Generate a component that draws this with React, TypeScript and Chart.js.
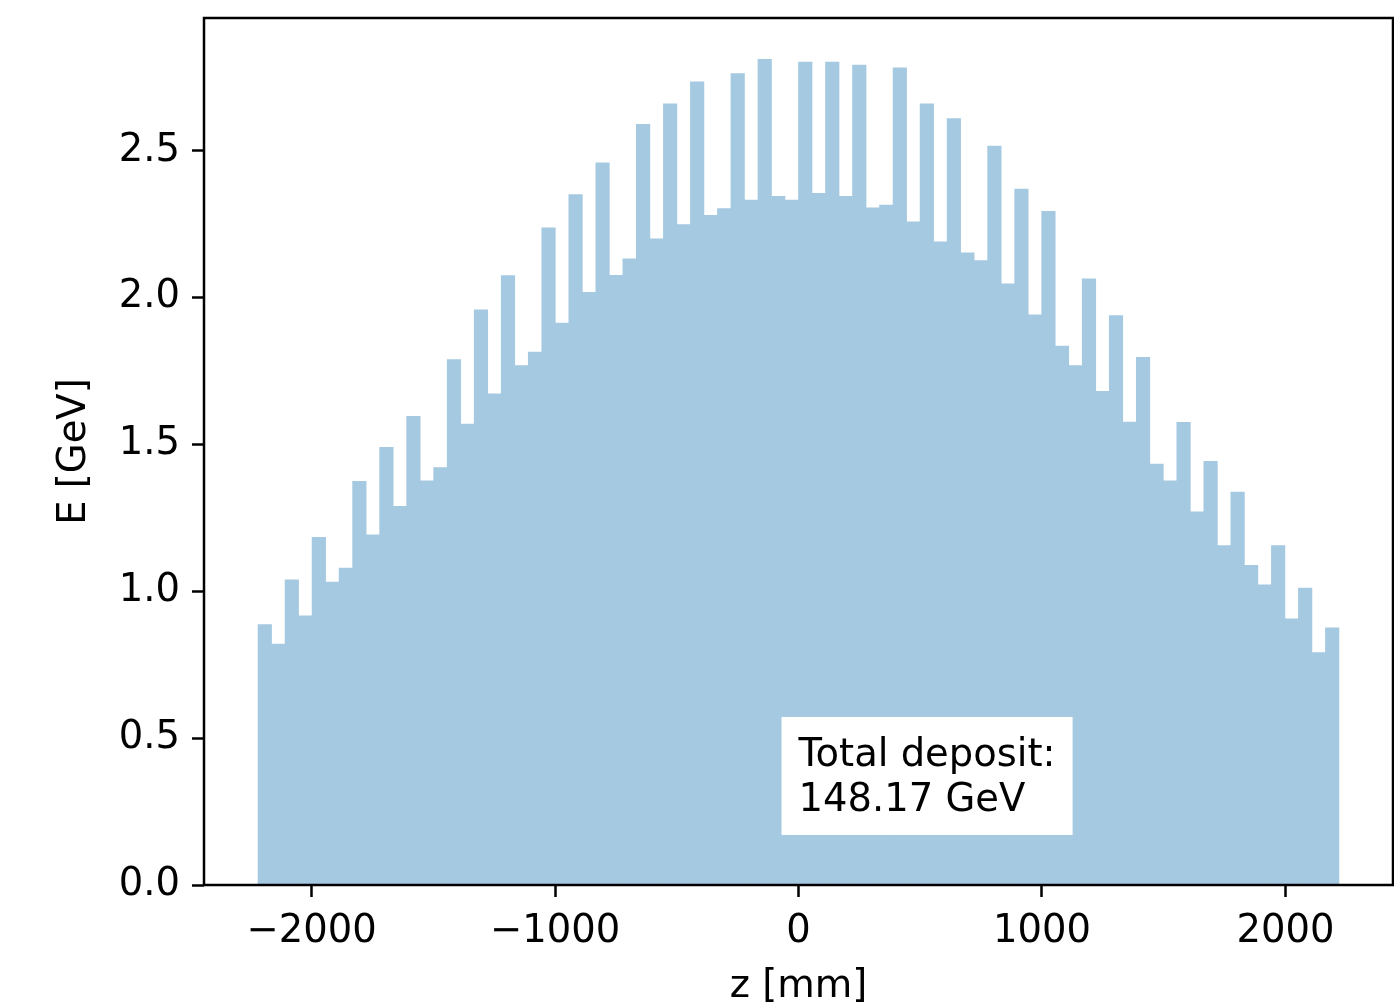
import React, { useEffect, useRef } from "react";
import { Chart, registerables } from "chart.js";

Chart.register(...registerables);

// Histogram binning along z (mm): 80 equal bins
const BIN_LOW = -2220;
const BIN_HIGH = 2220;

// Energy deposited per z bin (GeV)
const energyPerBin = [
  0.886, 0.82, 1.039, 0.916, 1.183, 1.031, 1.079, 1.374, 1.192, 1.49,
  1.289, 1.595, 1.376, 1.421, 1.788, 1.569, 1.958, 1.672, 2.074, 1.768,
  1.814, 2.237, 1.913, 2.35, 2.017, 2.458, 2.075, 2.131, 2.589, 2.199,
  2.659, 2.248, 2.734, 2.279, 2.302, 2.762, 2.331, 2.81, 2.344, 2.331,
  2.801, 2.354, 2.801, 2.344, 2.791, 2.305, 2.314, 2.781, 2.257, 2.659,
  2.189, 2.609, 2.152, 2.125, 2.515, 2.046, 2.369, 1.941, 2.293, 1.834,
  1.768, 2.063, 1.68, 1.938, 1.576, 1.796, 1.433, 1.376, 1.575, 1.27,
  1.442, 1.155, 1.337, 1.088, 1.022, 1.155, 0.906, 1.011, 0.791, 0.875,
];

const xTickValues = [-2000, -1000, 0, 1000, 2000];
const yTickValues = [0, 0.5, 1.0, 1.5, 2.0, 2.5];
const xLimits = [-2442, 2442];
const yLimits = [0, 2.951];

const xTitle = "z [mm]";
const yTitle = "E [GeV]";
const totalDeposit = 148.17;
const noteLines = ["Total deposit:", `${totalDeposit.toFixed(2)} GeV`];

const FONT_FAMILY = '"DejaVu Sans", "Liberation Sans", sans-serif';
const FONT_SIZE = 38.5;
const BAR_COLOR = "rgb(165, 201, 225)";

const binWidth = (BIN_HIGH - BIN_LOW) / energyPerBin.length;
const binCenters = energyPerBin.map((_, i) => BIN_LOW + binWidth * (i + 0.5));

const formatX = (v: number) => (v < 0 ? "\u2212" + Math.abs(v) : String(v));

// Draws the annotation box and the four-sided axes frame above the bars
const frameAndNote = {
  id: "frameAndNote",
  afterDatasetsDraw(chart: any) {
    const { ctx, chartArea: a } = chart;
    const w = a.right - a.left;
    const h = a.bottom - a.top;
    ctx.save();

    // text box (positions in axes fractions)
    const textX = a.left + 0.5 * w;
    ctx.font = `${FONT_SIZE}px ${FONT_FAMILY}`;
    const textW = Math.max(...noteLines.map((s) => ctx.measureText(s).width));
    const padX = 17;
    const boxTop = a.bottom - 0.1938 * h;
    const boxBottom = a.bottom - 0.0577 * h;
    ctx.fillStyle = "#ffffff";
    ctx.fillRect(textX - padX, boxTop, textW + 2 * padX, boxBottom - boxTop);
    ctx.fillStyle = "#000000";
    ctx.textAlign = "left";
    ctx.textBaseline = "alphabetic";
    const baselines = [a.bottom - 0.1372 * h, a.bottom - 0.0853 * h];
    noteLines.forEach((s, i) => ctx.fillText(s, textX, baselines[i]));

    // frame
    ctx.strokeStyle = "#000000";
    ctx.lineWidth = 2.5;
    ctx.strokeRect(a.left, a.top, w, h);
    ctx.restore();
  },
};

export default function App() {
  const canvasRef = useRef<HTMLCanvasElement>(null);

  useEffect(() => {
    const canvas = canvasRef.current;
    if (!canvas) return;
    const tickFont = { family: FONT_FAMILY, size: FONT_SIZE };
    const chart = new Chart(canvas, {
      type: "bar",
      data: {
        datasets: [
          {
            data: binCenters.map((x, i) => ({ x, y: energyPerBin[i] })),
            backgroundColor: BAR_COLOR,
            borderWidth: 0,
            barPercentage: 1,
            categoryPercentage: 1,
          },
        ],
      },
      options: {
        animation: false,
        responsive: false,
        devicePixelRatio: 1,
        layout: { padding: { top: 18, right: 1, left: 0, bottom: 0 } },
        plugins: {
          legend: { display: false },
          tooltip: { enabled: false },
        },
        scales: {
          x: {
            type: "linear",
            min: xLimits[0],
            max: xLimits[1],
            offset: false,
            grid: {
              offset: false,
              drawOnChartArea: false,
              drawTicks: true,
              tickLength: 12,
              tickWidth: 2.5,
              tickColor: "#000",
            },
            border: { display: false },
            ticks: {
              font: tickFont,
              color: "#000",
              padding: 12,
              maxRotation: 0,
              autoSkip: false,
              callback: (v: any) => formatX(Number(v)),
            },
            title: {
              display: true,
              text: xTitle,
              font: tickFont,
              color: "#000",
              padding: { top: 0, bottom: -5 },
            },
            afterBuildTicks: (s: any) => {
              s.ticks = xTickValues.map((value) => ({ value }));
            },
            afterFit: (s: any) => {
              s.height = 120;
              s.paddingLeft = 0;
              s.paddingRight = 0;
            },
          },
          y: {
            type: "linear",
            min: yLimits[0],
            max: yLimits[1],
            grid: {
              drawOnChartArea: false,
              drawTicks: true,
              tickLength: 12,
              tickWidth: 2.5,
              tickColor: "#000",
            },
            border: { display: false },
            ticks: {
              font: tickFont,
              color: "#000",
              padding: 12,
              autoSkip: false,
              callback: (v: any) => Number(v).toFixed(1),
            },
            title: {
              display: true,
              text: yTitle,
              font: tickFont,
              color: "#000",
              padding: { top: 52, bottom: 0 },
            },
            afterBuildTicks: (s: any) => {
              s.ticks = yTickValues.map((value) => ({ value }));
            },
            afterFit: (s: any) => {
              s.width = 204;
              s.paddingTop = 0;
              s.paddingBottom = 0;
            },
          },
        },
      },
      plugins: [frameAndNote],
    } as any);
    return () => chart.destroy();
  }, []);

  return (
    <canvas
      ref={canvasRef}
      width={1394}
      height={1005}
      style={{ position: "absolute", left: 0, top: 0, width: 1394, height: 1005, display: "block" }}
    />
  );
}
